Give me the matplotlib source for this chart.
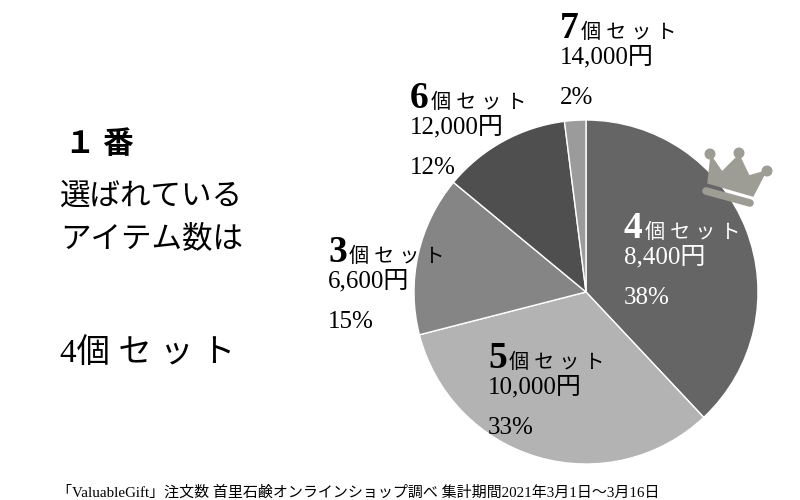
import numpy as np
import matplotlib.pyplot as plt
from matplotlib.patches import Polygon, Circle
from matplotlib.lines import Line2D
from matplotlib.transforms import Affine2D

plt.rcParams['font.family'] = ['Liberation Serif', 'Noto Sans CJK JP', 'DejaVu Sans']

# データ（注文数の割合）
sets = ['4', '5', '3', '6', '7']
prices = ['8,400円', '10,000円', '6,600円', '12,000円', '14,000円']
shares = [38, 33, 15, 12, 2]
colors = ['#656565', '#b3b3b3', '#858585', '#4f4f4f', '#9b9b9b']

W, H = 800, 500
fig = plt.figure(figsize=(8, 5), dpi=100)
fig.patch.set_facecolor('white')

def fx(x):
    return x / W

def fy(y):
    return 1 - y / H

# 円グラフ（中心と半径はピクセルで指定）
cx, cy, r = 586, 292, 172
ax = fig.add_axes([fx(cx - r), fy(cy + r), 2 * r / W, 2 * r / H])
ax.pie(shares, colors=colors, startangle=90, counterclock=False,
       wedgeprops=dict(edgecolor='white', linewidth=1))
ax.set_xlim(-1, 1)
ax.set_ylim(-1, 1)
ax.axis('off')

# ラベル位置（左上のピクセル座標）
label_pos = [(624, 238), (488, 368), (328, 262), (410, 108), (560, 38)]
text_col = ['white', 'black', 'black', 'black', 'black']
for s, p, v, (x, y), c in zip(sets, prices, shares, label_pos, text_col):
    fig.text(fx(x), fy(y), s, fontsize=27, fontweight='bold', color=c,
             va='baseline', ha='left')
    fig.text(fx(x + 21), fy(y), '個 セ ッ ト', fontsize=14.5, color=c,
             va='baseline', ha='left')
    fig.text(fx(x), fy(y + 25), p, fontsize=18, color=c,
             va='baseline', ha='left')
    fig.text(fx(x), fy(y + 66), f'{v}%', fontsize=18, color=c,
             va='baseline', ha='left')

# 左側の見出し
fig.text(fx(65), fy(153), '１ 番', fontsize=22, fontweight='bold', va='baseline')
fig.text(fx(60), fy(205), '選ばれている', fontsize=22, va='baseline')
fig.text(fx(60), fy(247), 'アイテム数は', fontsize=22, va='baseline')
fig.text(fx(60), fy(362), '4個 セ ッ ト', fontsize=24, va='baseline')

# 出典
fig.text(fx(57), fy(497), '「ValuableGift」注文数 首里石鹸オンラインショップ調べ 集計期間2021年3月1日～3月16日',
         fontsize=10.8, va='baseline')

# 王冠アイコン（ピクセル座標、y下向き）
crown_col = '#9e9d95'
tr = Affine2D().scale(1, -1).translate(0, H).scale(1 / W, 1 / H) + fig.transFigure
body = [(708, 183), (711, 156), (722, 172), (739, 155), (749, 176),
        (766, 171), (753, 196)]
fig.patches.append(Polygon(body, closed=True, color=crown_col, transform=tr))
for px, py in [(710, 154), (739, 153), (767, 171)]:
    fig.patches.append(Circle((px, py), 4.8, color=crown_col, transform=tr))
fig.lines.append(Line2D([706, 750], [191, 203], color=crown_col, linewidth=5.5,
                        solid_capstyle='round', transform=tr))

fig.savefig('out.png', dpi=100)
